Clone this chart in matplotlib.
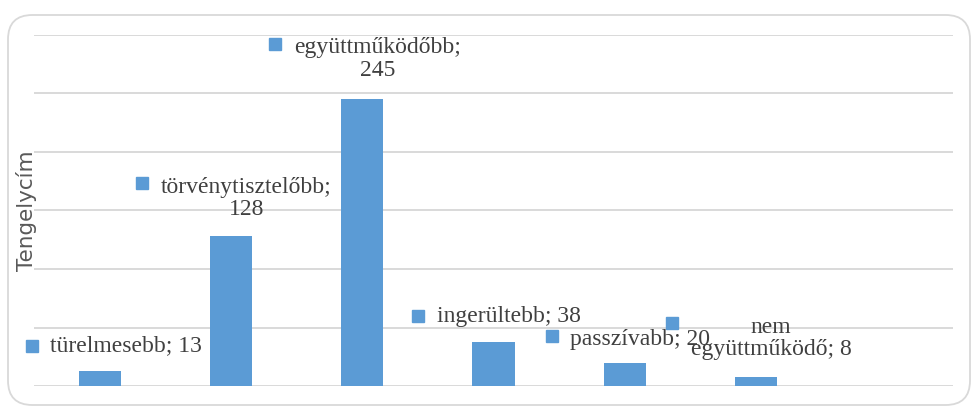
import matplotlib
matplotlib.use("Agg")
import matplotlib.pyplot as plt
import matplotlib.transforms as mtransforms
from matplotlib.patches import FancyBboxPatch

categories = ["türelmesebb", "törvénytisztelőbb", "együttműködőbb",
              "ingerültebb", "passzívabb", "nem együttműködő", ""]
values = [13, 128, 245, 38, 20, 8, None]
label_texts = ["türelmesebb; 13", "törvénytisztelőbb;\n128", "együttműködőbb;\n245",
               "ingerültebb; 38", "passzívabb; 20", "nem\negyüttműködő; 8"]
y_ticks = [0, 50, 100, 150, 200, 250, 300]
axis_title = "Tengelycím"

# label layout (pixel offsets from the bar top): square, text, alignment
label_layout = [
    ((-67.7, 24.8), (-49.7, 24.8), "left"),
    ((-89.0, 53.2), (15.5, 37.7), "center"),
    ((-87.4, 54.9), (15.1, 39.9), "center"),
    ((-75.8, 25.5), (-56.8, 25.5), "left"),
    ((-73.0, 26.6), (-55.0, 23.6), "left"),
    ((-84.4, 53.6), (15.1, 38.1), "center"),
]

BAR = "#5B9BD5"
TXT = "#404040"
GRID = "#D9D9D9"

W, H = 975, 409
fig = plt.figure(figsize=(W / 100, H / 100), dpi=100)
fig.patch.set_facecolor("white")

border = FancyBboxPatch((8 / W, 4 / H), 962 / W, 390 / H,
                        boxstyle="round,pad=0,rounding_size=0.025",
                        transform=fig.transFigure, facecolor="none",
                        edgecolor=GRID, linewidth=1.3, mutation_aspect=W / H,
                        zorder=-5)
fig.patches.append(border)

ax = fig.add_axes([34 / W, (H - 386) / H, (953 - 34) / W, (386 - 35) / H])
ax.set_facecolor("none")

xs = list(range(len(categories)))
bar_vals = [v if v is not None else 0 for v in values]
ax.bar(xs, bar_vals, width=0.32, color=BAR, zorder=3)

ax.set_xlim(-0.5, len(categories) - 0.5)
ax.set_ylim(y_ticks[0], y_ticks[-1])
ax.set_yticks(y_ticks)
ax.yaxis.grid(True, color=GRID, linewidth=1.4, zorder=0)
ax.set_xticks([])
ax.tick_params(axis="y", length=0, labelleft=False)
for s in ax.spines.values():
    s.set_visible(False)

ax.set_ylabel(axis_title, fontsize=15.5, color="#595959",
              family=["DejaVu Sans"], labelpad=2)
ax.yaxis.set_label_coords(0.003, 0.5)

for i, (txt, v) in enumerate(zip(label_texts, values)):
    (sq_dx, sq_dy), (t_dx, t_dy), ha = label_layout[i]
    ax.plot([i], [v], marker="s", markersize=8.5, color=BAR, linestyle="none",
            clip_on=False, zorder=5,
            transform=ax.transData + mtransforms.ScaledTranslation(
                sq_dx / 100, sq_dy / 100, fig.dpi_scale_trans))
    ax.annotate(txt, xy=(i, v), xytext=(t_dx, t_dy), textcoords="offset pixels",
                ha=ha, va="center", multialignment="center",
                fontsize=17, color=TXT, family=["Liberation Serif", "DejaVu Serif"],
                linespacing=1.12, zorder=6, annotation_clip=False)

fig.savefig("out.png", dpi=100, facecolor="white")
